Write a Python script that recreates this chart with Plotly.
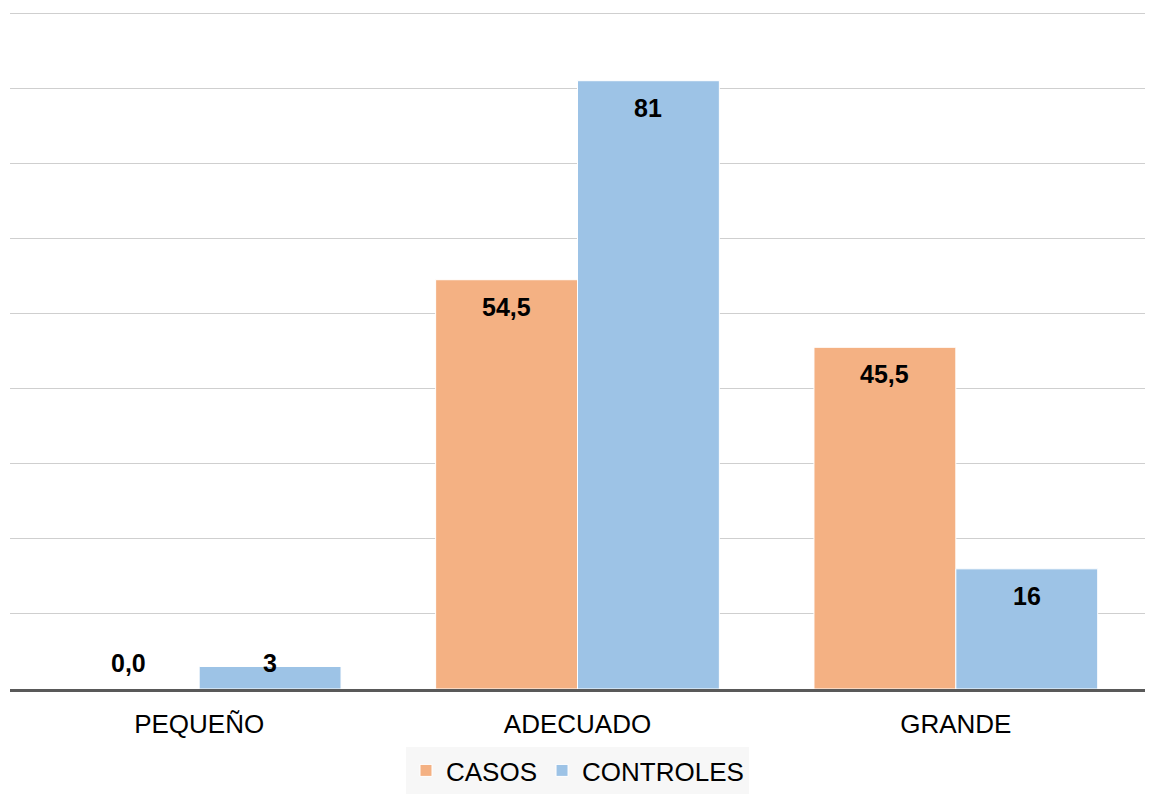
import plotly.graph_objects as go

categories = ["PEQUEÑO", "ADECUADO", "GRANDE"]
casos = [0.0, 54.5, 45.5]
controles = [3, 81, 16]
casos_labels = ["0,0", "54,5", "45,5"]
controles_labels = ["3", "81", "16"]

FONT = "Liberation Sans, Arial, sans-serif"
ORANGE = "#F4B183"
BLUE = "#9DC3E6"

W, H = 1149, 794
M_L, M_R, M_T, M_B = 10, 4, 12, 105
Y_MAX = 90.15
BARGAP = 0.25

fig = go.Figure()
fig.add_trace(go.Bar(name="CASOS", x=categories, y=casos, marker_color=ORANGE,
                     marker_line_color="white", marker_line_width=1))
fig.add_trace(go.Bar(name="CONTROLES", x=categories, y=controles, marker_color=BLUE,
                     marker_line_color="white", marker_line_width=1))

# value labels sit just inside the top of each bar, clamped above the baseline
plot_w = W - M_L - M_R
plot_h = H - M_T - M_B
px_per_unit = plot_h / Y_MAX
bar_w = plot_w / len(categories) * (1 - BARGAP) / 2
inset = 27 / px_per_unit
floor = 26 / px_per_unit
for vals, labels, sign in ((casos, casos_labels, -1), (controles, controles_labels, 1)):
    for cat, v, lab in zip(categories, vals, labels):
        fig.add_annotation(x=cat, y=max(v - inset, floor), text=f"<b>{lab}</b>",
                           showarrow=False, xshift=sign * bar_w / 2,
                           font=dict(family=FONT, size=25, color="black"))

fig.update_layout(
    width=W, height=H,
    margin=dict(l=M_L, r=M_R, t=M_T, b=M_B, autoexpand=False),
    barmode="group", bargap=BARGAP, bargroupgap=0,
    plot_bgcolor="white", paper_bgcolor="white",
    font=dict(family=FONT, size=26, color="black"),
    showlegend=True,
    legend=dict(orientation="h", x=0.5, xanchor="center", xref="paper",
                y=-2, yref="container", yanchor="bottom",
                bgcolor="#f7f7f7", font=dict(family=FONT, size=26, color="black"),
                itemwidth=30, tracegroupgap=0, borderwidth=0),
)
fig.update_yaxes(range=[0, Y_MAX], dtick=10, showticklabels=False,
                 gridcolor="#cfcfcf", gridwidth=1, zeroline=False, showline=False)
fig.update_xaxes(showline=True, linecolor="#595959", linewidth=3, automargin=False,
                 ticks="outside", ticklen=10, tickcolor="rgba(0,0,0,0)",
                 tickfont=dict(family=FONT, size=26, color="black"))

fig.write_html("out.html")
